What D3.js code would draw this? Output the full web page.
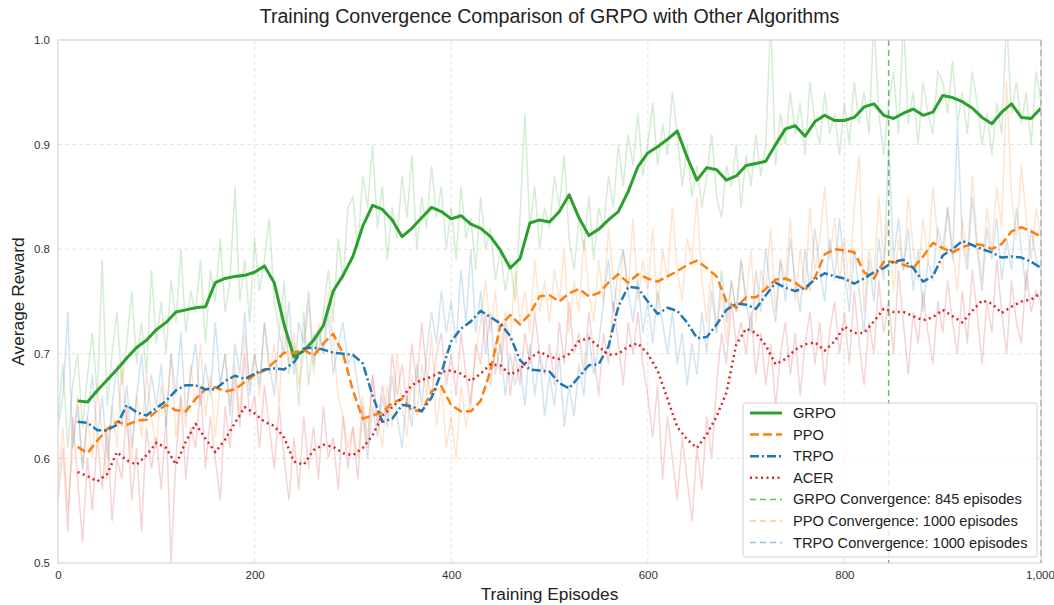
<!DOCTYPE html>
<html lang="en">
<head>
<meta charset="UTF-8">
<script src="https://cdn.jsdelivr.net/npm/d3@7"></script>
<title>Training Convergence</title>
<style>
    body { margin: 0; background: white; }
    svg { display: block; font-family: "Liberation Sans", Arial, sans-serif; }
    .grid line { stroke: #dcdcdc; stroke-dasharray: 4,3; stroke-width: 0.8; }
    .tick text { fill: #333; font-size: 11.5px; }
</style>
</head>
<body>
<div id="container"></div>
<script>
    // ---- data ----
    const algos = ["GRPO", "PPO", "TRPO", "ACER"];
    const colors = {GRPO: "#2ca02c", PPO: "#ff7f0e", TRPO: "#1f77b4", ACER: "#d62728"};

    // raw episode rewards, every 5 episodes from 0 to 1000
    const rawStep = 5;
    const grpoRaw = [
        0.64,0.69,0.61,0.67,0.70,0.63,0.68,0.72,0.66,0.79,0.65,0.70,0.74,0.67,0.71,0.76,0.69,0.73,0.68,0.78,
        0.71,0.75,0.70,0.77,0.73,0.80,0.72,0.76,0.74,0.79,0.71,0.78,0.75,0.81,0.74,0.77,0.86,0.75,0.79,0.73,
        0.81,0.76,0.79,0.83,0.75,0.72,0.77,0.68,0.71,0.65,0.74,0.67,0.72,0.70,0.74,0.78,0.73,0.81,0.77,0.84,
        0.85,0.80,0.87,0.84,0.90,0.82,0.86,0.79,0.84,0.81,0.87,0.83,0.89,0.80,0.85,0.82,0.88,0.83,0.86,0.80,
        0.84,0.79,0.86,0.81,0.83,0.78,0.85,0.80,0.82,0.77,0.80,0.76,0.79,0.75,0.83,0.93,0.82,0.86,0.80,0.84,
        0.82,0.87,0.84,0.89,0.81,0.78,0.83,0.80,0.85,0.79,0.84,0.82,0.87,0.84,0.90,0.86,0.91,0.88,0.93,0.87,
        0.90,0.94,0.88,0.92,0.89,0.95,0.91,0.86,0.90,0.85,0.88,0.84,0.87,0.91,0.85,0.83,0.88,0.86,0.90,0.84,
        0.89,0.86,0.91,0.87,0.90,1.02,0.88,0.93,0.90,0.95,0.91,0.94,0.89,0.96,0.92,0.90,0.95,0.91,0.93,0.89,
        0.94,0.90,0.96,0.92,0.95,0.91,1.02,0.93,0.89,0.94,0.97,0.91,1.02,0.92,0.95,0.90,0.96,0.93,0.91,0.97,
        0.96,0.93,0.98,0.92,0.95,0.91,0.97,0.94,0.90,0.93,0.89,0.94,0.91,1.02,0.93,0.96,0.92,0.95,0.90,0.97,
        0.94];
    const ppoRaw = [
        0.58,0.63,0.55,0.61,0.66,0.59,0.64,0.60,0.67,0.62,0.58,0.65,0.61,0.69,0.63,0.60,0.66,0.62,0.68,0.64,
        0.61,0.67,0.64,0.70,0.62,0.66,0.63,0.69,0.65,0.71,0.64,0.68,0.62,0.67,0.70,0.65,0.69,0.64,0.72,0.67,
        0.70,0.66,0.73,0.68,0.71,0.65,0.74,0.69,0.72,0.67,0.70,0.75,0.68,0.73,0.70,0.76,0.71,0.66,0.64,0.61,
        0.63,0.60,0.66,0.62,0.68,0.64,0.61,0.67,0.63,0.70,0.65,0.62,0.68,0.64,0.69,0.66,0.72,0.63,0.67,0.61,
        0.64,0.60,0.67,0.63,0.66,0.70,0.73,0.77,0.72,0.76,0.70,0.74,0.71,0.78,0.73,0.76,0.72,0.79,0.74,0.77,
        0.73,0.78,0.75,0.80,0.72,0.77,0.74,0.81,0.76,0.73,0.79,0.75,0.82,0.77,0.74,0.80,0.76,0.83,0.75,0.79,
        0.76,0.82,0.74,0.80,0.77,0.84,0.78,0.75,0.81,0.79,0.85,0.77,0.73,0.78,0.72,0.76,0.71,0.77,0.74,0.79,
        0.75,0.80,0.73,0.78,0.76,0.82,0.74,0.79,0.77,0.83,0.75,0.80,0.76,0.84,0.78,0.81,0.86,0.79,0.83,0.77,
        0.81,0.76,0.84,0.89,0.74,0.80,0.77,0.85,0.79,0.83,0.76,0.81,0.78,0.85,0.80,0.77,0.83,0.79,0.86,0.81,
        0.78,0.84,0.80,0.76,0.83,0.79,0.87,0.81,0.77,0.84,0.80,0.86,0.82,0.96,0.85,0.81,0.88,0.83,0.79,0.84,
        0.81];
    const trpoRaw = [
        0.63,0.66,0.74,0.61,0.65,0.59,0.64,0.68,0.62,0.66,0.60,0.65,0.69,0.63,0.67,0.61,0.66,0.70,0.64,0.68,
        0.65,0.69,0.63,0.70,0.66,0.72,0.64,0.68,0.71,0.65,0.69,0.66,0.73,0.67,0.70,0.64,0.71,0.68,0.74,0.66,
        0.70,0.67,0.73,0.69,0.66,0.72,0.70,0.75,0.68,0.73,0.71,0.76,0.69,0.72,0.70,0.74,0.68,0.71,0.73,0.69,
        0.70,0.67,0.64,0.60,0.65,0.62,0.66,0.63,0.68,0.64,0.61,0.66,0.63,0.69,0.65,0.70,0.74,0.71,0.76,0.72,
        0.75,0.71,0.78,0.73,0.80,0.72,0.76,0.70,0.74,0.68,0.71,0.66,0.70,0.67,0.69,0.65,0.71,0.66,0.70,0.64,
        0.68,0.65,0.70,0.63,0.67,0.64,0.69,0.66,0.72,0.68,0.71,0.75,0.79,0.74,0.78,0.80,0.76,0.73,0.77,0.72,
        0.75,0.71,0.76,0.73,0.70,0.74,0.69,0.72,0.67,0.71,0.68,0.74,0.70,0.76,0.72,0.78,0.73,0.77,0.74,0.79,
        0.75,0.72,0.78,0.74,0.80,0.76,0.73,0.79,0.75,0.81,0.77,0.74,0.80,0.76,0.82,0.78,0.75,0.81,0.77,0.83,
        0.78,0.74,0.80,0.76,0.72,0.79,0.75,0.81,0.77,0.90,0.79,0.83,0.78,0.82,0.76,0.80,0.74,0.79,0.77,0.82,
        0.80,0.84,0.79,0.92,0.81,0.78,0.85,0.80,0.76,0.82,0.79,0.83,0.77,0.81,0.78,0.84,0.80,0.76,0.82,0.79,
        0.78];
    const acerRaw = [
        0.56,0.61,0.53,0.64,0.58,0.52,0.60,0.55,0.62,0.57,0.63,0.54,0.60,0.58,0.65,0.56,0.61,0.53,0.63,0.59,
        0.62,0.57,0.64,0.50,0.60,0.66,0.58,0.63,0.61,0.67,0.59,0.64,0.60,0.56,0.65,0.61,0.68,0.63,0.70,0.64,
        0.66,0.61,0.67,0.63,0.59,0.65,0.60,0.56,0.62,0.57,0.64,0.59,0.63,0.58,0.65,0.60,0.62,0.57,0.64,0.59,
        0.63,0.58,0.65,0.61,0.68,0.63,0.67,0.64,0.70,0.66,0.69,0.65,0.71,0.67,0.73,0.68,0.66,0.70,0.72,0.67,
        0.70,0.66,0.72,0.68,0.65,0.71,0.69,0.74,0.67,0.71,0.68,0.73,0.66,0.70,0.67,0.72,0.69,0.74,0.70,0.68,
        0.71,0.67,0.73,0.69,0.75,0.70,0.72,0.68,0.74,0.70,0.66,0.72,0.69,0.75,0.71,0.67,0.73,0.70,0.74,0.69,
        0.66,0.62,0.67,0.58,0.64,0.60,0.56,0.62,0.58,0.54,0.61,0.57,0.64,0.60,0.67,0.72,0.69,0.75,0.71,0.73,
        0.70,0.74,0.68,0.72,0.67,0.71,0.65,0.70,0.73,0.68,0.72,0.66,0.71,0.74,0.69,0.73,0.67,0.72,0.75,0.70,
        0.74,0.69,0.76,0.71,0.67,0.73,0.70,0.77,0.72,0.75,0.70,0.78,0.73,0.68,0.74,0.71,0.76,0.72,0.69,0.75,
        0.72,0.77,0.73,0.70,0.76,0.71,0.78,0.74,0.69,0.75,0.72,0.79,0.74,0.70,0.77,0.73,0.71,0.78,0.74,0.76,
        0.75];

    // smoothed (moving average) rewards, every 10 episodes from 20 to 1000
    const smoothStart = 20, smoothStep = 10;
    const grpoSmooth = [
        0.655,0.654,0.665,0.675,0.685,0.696,0.706,0.713,0.723,0.730,0.740,0.742,0.744,0.745,0.768,0.772,0.774,0.775,0.778,0.784,
        0.768,0.728,0.697,0.703,0.713,0.727,0.760,0.775,0.793,0.822,0.842,0.838,0.828,0.812,0.820,0.830,0.840,0.836,0.829,0.832,
        0.824,0.820,0.812,0.799,0.782,0.791,0.825,0.828,0.826,0.836,0.852,0.830,0.813,0.819,0.828,0.836,0.855,0.879,0.892,0.898,
        0.905,0.913,0.888,0.866,0.878,0.876,0.866,0.870,0.880,0.882,0.884,0.900,0.915,0.918,0.908,0.922,0.928,0.923,0.923,0.926,
        0.936,0.939,0.928,0.925,0.930,0.934,0.928,0.931,0.947,0.945,0.941,0.935,0.926,0.920,0.931,0.939,0.926,0.925,0.935];
    const ppoSmooth = [
        0.611,0.605,0.617,0.628,0.635,0.632,0.636,0.637,0.645,0.651,0.646,0.645,0.657,0.666,0.668,0.664,0.666,0.673,0.680,0.684,
        0.692,0.701,0.701,0.704,0.698,0.710,0.719,0.700,0.665,0.638,0.641,0.644,0.653,0.657,0.646,0.645,0.664,0.669,0.651,0.645,
        0.645,0.655,0.684,0.727,0.737,0.728,0.738,0.755,0.756,0.750,0.758,0.762,0.755,0.758,0.768,0.776,0.768,0.776,0.772,0.769,
        0.774,0.779,0.785,0.789,0.782,0.774,0.750,0.744,0.754,0.754,0.762,0.771,0.772,0.768,0.761,0.773,0.795,0.800,0.799,0.797,
        0.778,0.772,0.788,0.788,0.785,0.782,0.793,0.806,0.801,0.797,0.802,0.805,0.804,0.800,0.805,0.817,0.821,0.817,0.812];
    const trpoSmooth = [
        0.635,0.634,0.627,0.627,0.632,0.651,0.644,0.641,0.648,0.655,0.665,0.670,0.670,0.666,0.666,0.674,0.679,0.676,0.681,0.685,
        0.686,0.685,0.692,0.705,0.706,0.704,0.701,0.700,0.699,0.691,0.660,0.635,0.638,0.651,0.650,0.645,0.658,0.682,0.712,0.724,
        0.731,0.741,0.735,0.729,0.717,0.694,0.685,0.684,0.683,0.672,0.667,0.678,0.689,0.690,0.707,0.745,0.764,0.763,0.750,0.738,
        0.744,0.741,0.730,0.715,0.716,0.728,0.742,0.748,0.747,0.743,0.756,0.768,0.763,0.760,0.763,0.771,0.777,0.774,0.772,0.767,
        0.772,0.778,0.782,0.788,0.790,0.782,0.769,0.774,0.794,0.800,0.808,0.804,0.800,0.797,0.792,0.793,0.792,0.788,0.782];
    const acerSmooth = [
        0.587,0.583,0.578,0.585,0.606,0.598,0.594,0.603,0.615,0.610,0.594,0.616,0.633,0.619,0.606,0.618,0.634,0.649,0.643,0.635,
        0.631,0.620,0.597,0.594,0.608,0.613,0.611,0.605,0.603,0.610,0.622,0.641,0.649,0.658,0.670,0.675,0.678,0.683,0.684,0.681,
        0.674,0.681,0.690,0.689,0.680,0.685,0.696,0.702,0.697,0.695,0.700,0.712,0.715,0.707,0.699,0.700,0.707,0.710,0.700,0.684,
        0.657,0.630,0.618,0.610,0.623,0.640,0.663,0.709,0.724,0.720,0.708,0.690,0.695,0.704,0.709,0.711,0.703,0.712,0.726,0.720,
        0.720,0.731,0.743,0.740,0.740,0.736,0.732,0.735,0.742,0.736,0.730,0.741,0.751,0.748,0.739,0.745,0.750,0.752,0.758];

    // convergence episodes
    const convNames = ["GRPO", "PPO", "TRPO"];
    const convEpisodes = [845, 1000, 1000];

    const xTicks = [0, 200, 400, 600, 800, 1000];
    const yTicks = [0.5, 0.6, 0.7, 0.8, 0.9, 1.0];

    const rawData = {GRPO: grpoRaw, PPO: ppoRaw, TRPO: trpoRaw, ACER: acerRaw};
    const smoothData = {GRPO: grpoSmooth, PPO: ppoSmooth, TRPO: trpoSmooth, ACER: acerSmooth};

    // ---- layout ----
    const W = 1054, H = 605;
    const margin = {top: 40, right: 13, bottom: 42, left: 58};
    const iw = W - margin.left - margin.right;
    const ih = H - margin.top - margin.bottom;

    const svg = d3.select("#container").append("svg")
        .attr("width", W).attr("height", H);

    const x = d3.scaleLinear().domain([0, 1000]).range([0, iw]);
    const y = d3.scaleLinear().domain([0.5, 1.0]).range([ih, 0]);

    const g = svg.append("g").attr("transform", `translate(${margin.left},${margin.top})`);

    svg.append("defs").append("clipPath").attr("id", "clip")
        .append("rect").attr("width", iw).attr("height", ih);

    // grid
    g.append("g").attr("class", "grid")
        .selectAll("line").data(xTicks.slice(1, -1)).join("line")
        .attr("x1", d => x(d)).attr("x2", d => x(d)).attr("y1", 0).attr("y2", ih);
    g.append("g").attr("class", "grid")
        .selectAll("line").data(yTicks.slice(1, -1)).join("line")
        .attr("y1", d => y(d)).attr("y2", d => y(d)).attr("x1", 0).attr("x2", iw);

    const plot = g.append("g").attr("clip-path", "url(#clip)");

    // raw lines
    const rawLine = d3.line().x((d, i) => x(i * rawStep)).y(d => y(d));
    algos.forEach(a => {
        plot.append("path").datum(rawData[a])
            .attr("d", rawLine)
            .attr("fill", "none")
            .attr("stroke", colors[a])
            .attr("stroke-opacity", 0.2)
            .attr("stroke-width", 1.5);
    });

    // smoothed lines
    const styles = {
        GRPO: {w: 3, dash: null},
        PPO: {w: 2.5, dash: "9,4"},
        TRPO: {w: 2.5, dash: "9,3,2,3"},
        ACER: {w: 2.5, dash: "2,3.5"}
    };
    const smoothLine = d3.line().x((d, i) => x(smoothStart + i * smoothStep)).y(d => y(d));
    algos.forEach(a => {
        plot.append("path").datum(smoothData[a])
            .attr("d", smoothLine)
            .attr("fill", "none")
            .attr("stroke", colors[a])
            .attr("stroke-width", styles[a].w)
            .attr("stroke-dasharray", styles[a].dash)
            .attr("stroke-linejoin", "round");
    });

    // convergence lines
    const convOpacity = {GRPO: 0.7, PPO: 0.45, TRPO: 0.45};
    convNames.forEach((n, i) => {
        g.append("line")
            .attr("x1", x(convEpisodes[i])).attr("x2", x(convEpisodes[i]))
            .attr("y1", 0).attr("y2", ih)
            .attr("stroke", colors[n])
            .attr("stroke-opacity", convOpacity[n])
            .attr("stroke-width", 1.5)
            .attr("stroke-dasharray", "6,4");
    });

    // frame
    g.append("rect").attr("width", iw).attr("height", ih)
        .attr("fill", "none").attr("stroke", "#cccccc").attr("stroke-width", 1);

    // axes
    const xAxis = g.append("g").attr("transform", `translate(0,${ih})`)
        .call(d3.axisBottom(x).tickValues(xTicks).tickSize(0).tickPadding(8));
    xAxis.select(".domain").remove();
    // keep the last label inside the page
    xAxis.selectAll(".tick text").filter(d => d === 1000).attr("dx", "-1px");
    const yAxis = g.append("g")
        .call(d3.axisLeft(y).tickValues(yTicks).tickSize(0).tickPadding(8).tickFormat(d3.format(".1f")));
    yAxis.select(".domain").remove();

    // labels
    svg.append("text").attr("x", margin.left + iw / 2).attr("y", 23)
        .attr("text-anchor", "middle").attr("font-size", 19.6).attr("fill", "#222")
        .text("Training Convergence Comparison of GRPO with Other Algorithms");
    svg.append("text").attr("x", margin.left + iw / 2).attr("y", 600)
        .attr("text-anchor", "middle").attr("font-size", 17.3).attr("fill", "#222")
        .text("Training Episodes");
    svg.append("text").attr("transform", `translate(24,${margin.top + ih / 2}) rotate(-90)`)
        .attr("text-anchor", "middle").attr("font-size", 17.3).attr("fill", "#222")
        .text("Average Reward");

    // legend
    const legendItems = algos.map(a => ({label: a, color: colors[a], w: styles[a].w, dash: styles[a].dash, op: 1}))
        .concat(convNames.map((n, i) => ({
            label: `${n} Convergence: ${convEpisodes[i]} episodes`,
            color: colors[n], w: 1.5, dash: "6,4", op: convOpacity[n]
        })));
    const lg = g.append("g").attr("transform", `translate(${743 - margin.left},${403 - margin.top})`);
    lg.append("rect").attr("width", 294).attr("height", 154).attr("rx", 3)
        .attr("fill", "white").attr("fill-opacity", 0.8)
        .attr("stroke", "#d0d0d0");
    legendItems.forEach((d, i) => {
        const yy = 10 + i * 21.6;
        lg.append("line").attr("x1", 7).attr("x2", 39).attr("y1", yy).attr("y2", yy)
            .attr("stroke", d.color).attr("stroke-width", d.w)
            .attr("stroke-opacity", d.op)
            .attr("stroke-dasharray", d.dash);
        lg.append("text").attr("x", 50).attr("y", yy + 5)
            .attr("font-size", 14.6).attr("fill", "#222").text(d.label);
    });
</script>
</body>
</html>
